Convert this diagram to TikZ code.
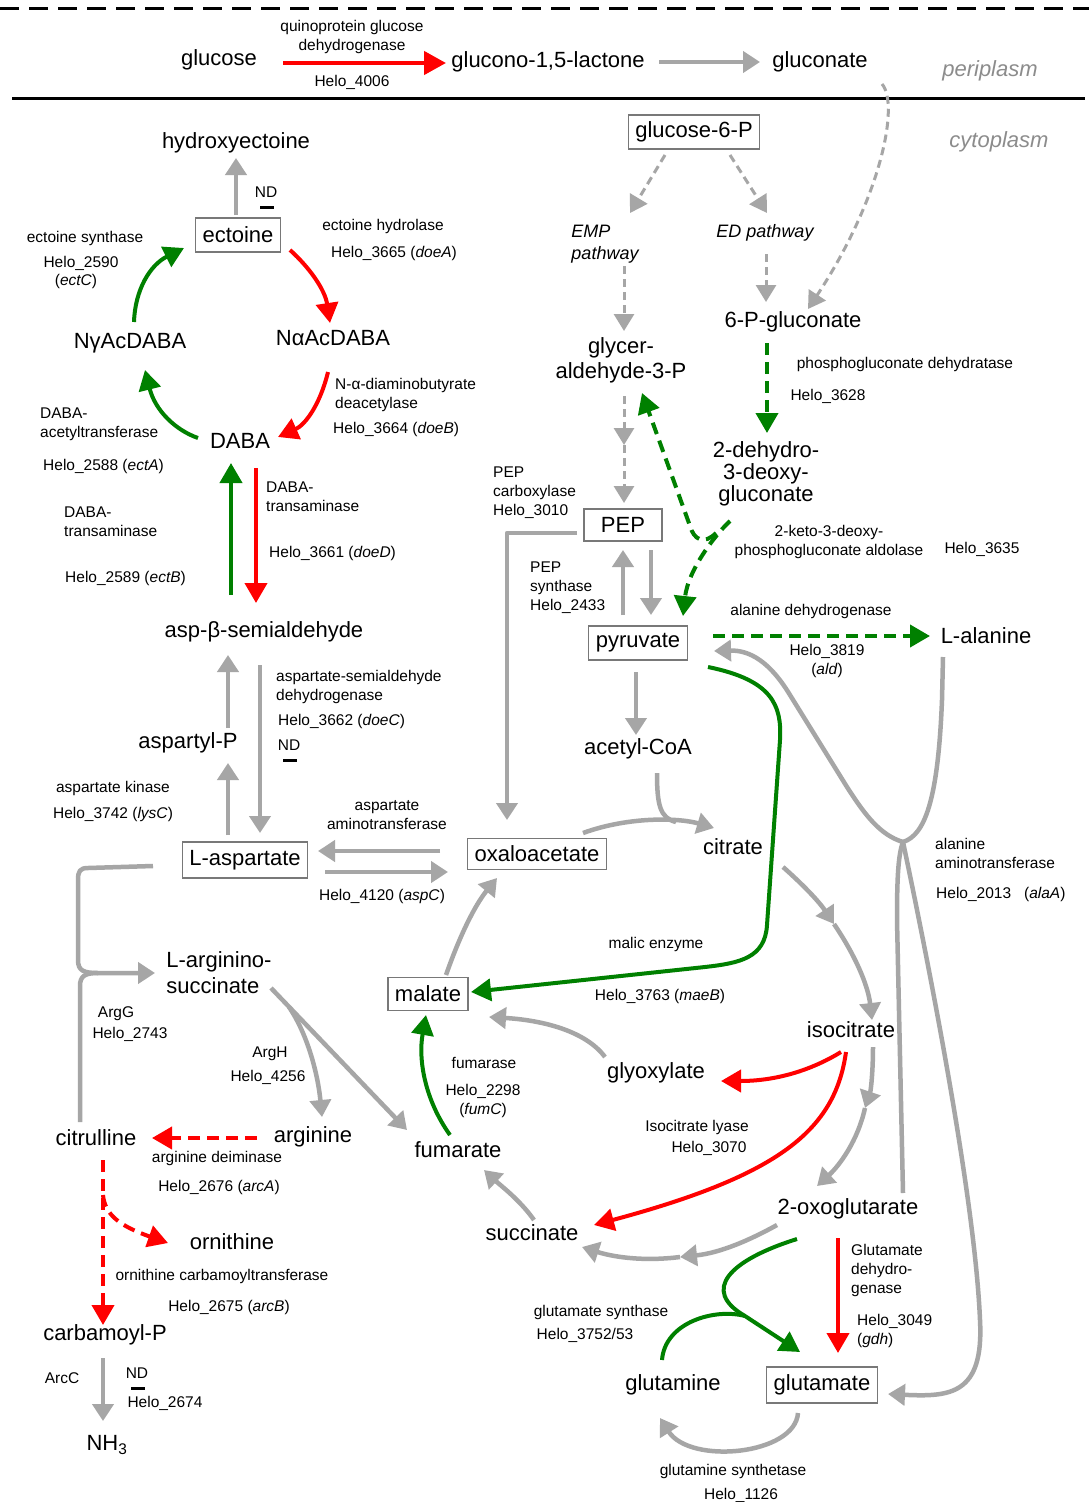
\documentclass[tikz,border=0pt]{standalone}
\usepackage{fontspec}
\setmainfont{Liberation Sans}
\usetikzlibrary{arrows.meta,calc}
\definecolor{ag}{RGB}{166,166,166}
\definecolor{ar}{RGB}{255,0,0}
\definecolor{agr}{RGB}{0,128,0}
\definecolor{bx}{RGB}{120,120,120}
\definecolor{lg}{RGB}{140,140,140}
\begin{document}
\begin{tikzpicture}[x=1pt,y=-1pt,
 big/.style={font=\fontsize{22}{25}\selectfont, inner sep=0pt},
 sm/.style={font=\fontsize{15.5}{19}\selectfont, inner sep=0pt},
 it/.style={font=\fontsize{18}{22}\selectfont\itshape, inner sep=0pt},
 side/.style={font=\fontsize{22}{25}\selectfont\itshape, text=lg, inner sep=0pt},
 boxed/.style={big, draw=bx, line width=1.2pt, inner xsep=7pt, minimum height=34pt},
 gl/.style={draw=ag, line width=4.5pt, line join=round},
 ga/.style={gl, -{Triangle[length=17pt,width=21pt]}},
 gad/.style={draw=ag, line width=3pt, dash pattern=on 8pt off 5pt, -{Triangle[length=17pt,width=20pt]}},
 ra/.style={draw=ar, line width=4pt, -{Triangle[length=20pt,width=22pt]}},
 rad/.style={ra, dash pattern=on 12pt off 7pt},
 gr/.style={draw=agr, line width=4pt, line join=round, -{Triangle[length=20pt,width=22pt]}},
 grd/.style={gr, dash pattern=on 12pt off 7pt},
 ndbar/.style={line width=3pt, draw=black}
]
\fill[white] (0,0) rectangle (1089,1502);
\useasboundingbox (0,0) rectangle (1089,1502);

% membranes
\draw[line width=3pt, dash pattern=on 19pt off 10pt] (0,8) -- (1089,8);
\draw[line width=3pt] (12,98) -- (1085,98);

% ---------- nodes ----------
\node[big] (glucose) at (219,60) {glucose};
\node[big] (glucono) at (548,62) {glucono-1,5-lactone};
\node[big] (gluconate) at (820,62) {gluconate};
\node[side] (peri) at (990,71) {periplasm};
\node[side] (cyto) at (999,142) {cytoplasm};
\node[sm, align=center] (qgdh) at (352,37) {quinoprotein glucose\\dehydrogenase};
\node[sm] (h4006) at (352,82) {Helo\_4006};

\node[boxed] (g6p) at (694,132) {glucose-6-P};
\node[it, align=left] (emp) at (605,244) {EMP\\pathway};
\node[it] (ed) at (765,233) {ED pathway};
\node[big] (pg6) at (793,322) {6-P-gluconate};
\node[big, align=center, font=\fontsize{22}{25}\selectfont] (gap) at (621,360) {glycer-\\aldehyde-3-P};
\node[big, align=center, font=\fontsize{22}{22}\selectfont] (kdpg) at (766,474) {2-dehydro-\\3-deoxy-\\gluconate};
\node[boxed, minimum width=78pt, minimum height=32pt] (PEP) at (623,525) {PEP};
\node[boxed] (pyr) at (638,643) {pyruvate};
\node[big] (ala) at (986,636) {L-alanine};
\node[big] (acoa) at (638,749) {acetyl-CoA};
\node[big] (cit) at (733,847) {citrate};
\node[boxed, minimum height=31pt] (oaa) at (537,854) {oxaloacetate};
\node[boxed, minimum height=36pt] (asp) at (245,860) {L-aspartate};
\node[big] (isocit) at (851,1030) {isocitrate};
\node[big] (glyox) at (656,1073) {glyoxylate};
\node[boxed, minimum height=33pt] (mal) at (428,994) {malate};
\node[big] (fum) at (458,1150) {fumarate};
\node[big] (succ) at (532,1233) {succinate};
\node[big] (oxo) at (848,1209) {2-oxoglutarate};
\node[big] (gln) at (673,1385) {glutamine};
\node[boxed, minimum height=36pt] (glu) at (822,1385) {glutamate};

\node[big] (hect) at (236,143) {hydroxyectoine};
\node[boxed] (ect) at (238,235) {ectoine};
\node[big] (naa) at (333,338) {NαAcDABA};
\node[big] (nga) at (130,343) {NγAcDABA};
\node[big] (daba) at (240,441) {DABA};
\node[big] (asa) at (264,632) {asp-β-semialdehyde};
\node[big] (aspp) at (188,743) {aspartyl-P};
\node[big, align=left, font=\fontsize{22}{26}\selectfont] (args) at (219,973) {L-arginino-\\succinate};
\node[big] (arg) at (313,1137) {arginine};
\node[big] (citr) at (96,1138) {citrulline};
\node[big] (orn) at (232,1242) {ornithine};
\node[big] (carb) at (105,1335) {carbamoyl-P};
\node[big] (nh3) at (107,1445) {NH\textsubscript{3}};

% ---------- small labels ----------
\node[sm] (lnd1) at (266,192) {ND};
\draw[ndbar] (260,207) -- (274,207);
\node[sm] (les) at (85,238) {ectoine synthase};
\node[sm] (l2590) at (81,263) {Helo\_2590};
\node[sm] (lectc) at (76,281) {(\textit{ectC})};
\node[sm] (leh) at (383,226) {ectoine hydrolase};
\node[sm] (l3665) at (394,253) {Helo\_3665 (\textit{doeA})};
\node[sm, align=left, anchor=west] (ldeac) at (335,394.5) {N-α-diaminobutyrate\\deacetylase};
\node[sm, anchor=west] (l3664) at (333,429) {Helo\_3664 (\textit{doeB})};
\node[sm, align=left, anchor=west] (lacet) at (40,424.5) {DABA-\\acetyltransferase};
\node[sm, anchor=west] (l2588) at (43,466) {Helo\_2588 (\textit{ectA})};
\node[sm, align=left, anchor=west] (ltr1) at (266,496.5) {DABA-\\transaminase};
\node[sm, anchor=west] (l3661) at (269,553) {Helo\_3661 (\textit{doeD})};
\node[sm, align=left, anchor=west] (ltr2) at (64,522) {DABA-\\transaminase};
\node[sm, anchor=west] (l2589) at (65,578) {Helo\_2589 (\textit{ectB})};
\node[sm, align=left, anchor=west] (lasd) at (276,686.5) {aspartate-semialdehyde\\dehydrogenase};
\node[sm, anchor=west] (l3662) at (278,721) {Helo\_3662 (\textit{doeC})};
\node[sm] (lnd2) at (289,745) {ND};
\draw[ndbar] (283,760) -- (297,760);
\node[sm] (lak) at (113,788) {aspartate kinase};
\node[sm] (l3742) at (113,814) {Helo\_3742 (\textit{lysC})};
\node[sm, align=center] (lat) at (387,815.5) {aspartate\\aminotransferase};
\node[sm] (l4120) at (382,896) {Helo\_4120 (\textit{aspC})};
\node[sm] (largg) at (116,1014) {ArgG};
\node[sm] (l2743) at (130,1034) {Helo\_2743};
\node[sm] (largh) at (270,1054) {ArgH};
\node[sm] (l4256) at (268,1077) {Helo\_4256};
\node[sm] (lad) at (217,1158) {arginine deiminase};
\node[sm] (l2676) at (219,1187) {Helo\_2676 (\textit{arcA})};
\node[sm] (loct) at (222,1276) {ornithine carbamoyltransferase};
\node[sm] (l2675) at (229,1307) {Helo\_2675 (\textit{arcB})};
\node[sm] (larcc) at (62,1378) {ArcC};
\node[sm] (lnd3) at (137,1373) {ND};
\draw[ndbar] (131,1388) -- (145,1388);
\node[sm] (l2674) at (165,1403) {Helo\_2674};

\node[sm, align=left, anchor=west] (lpepc) at (493,492.5) {PEP\\carboxylase\\Helo\_3010};
\node[sm, align=left, anchor=west] (lpeps) at (530,588) {PEP\\synthase\\Helo\_2433};
\node[sm] (lpgd) at (905,364) {phosphogluconate dehydratase};
\node[sm] (l3628) at (828,396) {Helo\_3628};
\node[sm, align=center] (lkdpga) at (829,541.5) {2-keto-3-deoxy-\\phosphogluconate aldolase};
\node[sm] (l3635) at (982,549) {Helo\_3635};
\node[sm] (lald) at (811,611) {alanine dehydrogenase};
\node[sm, align=center] (l3819) at (827,660.5) {Helo\_3819\\(\textit{ald})};
\node[sm, align=left, anchor=west] (laat) at (935,853.5) {alanine\\aminotransferase};
\node[sm, anchor=west] (l2013) at (936,894) {Helo\_2013\ \ \ (\textit{alaA})};
\node[sm] (lme) at (656,944) {malic enzyme};
\node[sm] (l3763) at (660,996) {Helo\_3763 (\textit{maeB})};
\node[sm] (lfum) at (484,1063) {fumarase};
\node[sm, align=center] (l2298) at (483,1100.5) {Helo\_2298\\(\textit{fumC})};
\node[sm] (lil) at (697,1127) {Isocitrate lyase};
\node[sm] (l3070) at (709,1148) {Helo\_3070};
\node[sm, align=left, anchor=west] (lgdh) at (851,1270) {Glutamate\\dehydro-\\genase};
\node[sm, align=left, anchor=west] (l3049) at (857,1330.5) {Helo\_3049\\(\textit{gdh})};
\node[sm] (lgs) at (601,1312) {glutamate synthase};
\node[sm] (l3752) at (585,1335) {Helo\_3752/53};
\node[sm] (lgns) at (733,1471) {glutamine synthetase};
\node[sm] (l1126) at (741,1495) {Helo\_1126};

% ---------- connectors: top ----------
\draw[ra, line width=4.5pt, -{Triangle[length=22pt,width=23pt]}] ($(glucose)+(64,3)$) -- ($(glucono)+(-102,1)$);
\draw[ga] ($(glucono)+(111,0)$) -- ($(gluconate)+(-60,0)$);
\draw[gad] ($(gluconate)+(62,22)$) .. controls (900,105) and (880,200) .. ($(pg6)+(15,-13)$);

% glycolysis / ED
\draw[gad] ($(g6p)+(-29,23)$) -- ($(emp)+(25,-31)$);
\draw[gad] ($(g6p)+(36,23)$) -- ($(ed)+(2,-20)$);
\draw[gad] ($(emp)+(19,22)$) -- ($(gap)+(3,-29)$);
\draw[gad] ($(ed)+(1,21)$) -- ($(pg6)+(-27,-20)$);
\coordinate (gp1) at (624,445);
\draw[gad] ($(gap)+(3,36)$) -- (gp1);
\draw[gad] (gp1) -- ($(PEP)+(1,-22)$);
\draw[grd] ($(pg6)+(-26,21)$) -- ($(kdpg)+(1,-41)$);
\coordinate (J) at (716,533);
\draw[grd] ($(kdpg)+(-36,47)$) .. controls (715,535) and (688,570) .. ($(pyr)+(45,-27)$);
\draw[grd] (J) .. controls (704,545) and (694,540) .. (690,526) -- ($(gap)+(21,33)$);

% PEP / pyruvate
\draw[ga] ($(PEP)+(-46,8)$) -| ($(oaa)+(-30,-34)$);
\draw[ga] ($(pyr)+(-15,-28)$) -- ($(PEP)+(0,25)$);
\draw[ga] ($(PEP)+(28,25)$) -- ($(pyr)+(13,-28)$);
\draw[grd] ($(pyr)+(75,-7)$) -- ($(ala)+(-56,0)$);
\draw[ga] ($(pyr)+(-2,29)$) -- ($(acoa)+(-2,-14)$);
\draw[ga] ($(oaa)+(46,-21)$) .. controls (630,816) and (680,818) .. ($(cit)+(-19,-19)$);
\draw[gl] ($(acoa)+(19,24)$) .. controls (657,805) and (660,818) .. (676,822);

% malic enzyme
\draw[gr] ($(pyr)+(70,24)$) .. controls (772,680) and (782,705) .. (780,740) -- (767,925) .. controls (765,958) and (740,963) .. (705,967) -- ($(mal)+(43,-2)$);

% alanine aminotransferase
\coordinate (K) at (903,842);
\draw[ga] (K) .. controls (880,835) and (865,815) .. (847,787) -- (790,695) .. controls (770,662) and (750,650) .. ($(pyr)+(76,8)$);
\draw[gl] ($(ala)+(-43,21)$) -- (942,700) .. controls (938,800) and (925,835) .. (K);
\draw[gl] (K) .. controls (898,855) and (897,880) .. (897,920) -- ($(oxo)+(55,-16)$);
\draw[ga] (K) .. controls (930,970) and (975,1200) .. (980,1320) .. controls (984,1395) and (950,1397) .. ($(glu)+(66,9)$);

% TCA
\draw[ga] ($(oaa)+(-97,-3)$) -- ($(asp)+(73,-9)$);
\draw[ga] ($(asp)+(80,12)$) -- ($(oaa)+(-89,18)$);
\coordinate (ci1) at (834,924);
\draw[ga] ($(cit)+(50,20)$) .. controls (800,882) and (818,900) .. (ci1);
\draw[ga] (ci1) .. controls (855,955) and (868,985) .. ($(isocit)+(21,-10)$);
\coordinate (io1) at (865,1108);
\draw[ga] ($(isocit)+(22,17)$) .. controls (873,1070) and (871,1090) .. (io1);
\draw[ga] (io1) .. controls (858,1140) and (840,1165) .. ($(oxo)+(-31,-23)$);
\coordinate (os1) at (680,1257);
\draw[ga] ($(oxo)+(-71,16)$) .. controls (750,1240) and (720,1253) .. (os1);
\draw[ga] (os1) .. controls (640,1262) and (610,1256) .. ($(succ)+(50,14)$);
\draw[ga] ($(succ)+(2,-13)$) .. controls (520,1200) and (500,1185) .. ($(fum)+(26,20)$);
\draw[gr] ($(fum)+(-8,-15)$) .. controls (425,1100) and (418,1060) .. ($(mal)+(-2,21)$);
\draw[ga] ($(mal)+(18,-19)$) .. controls (460,935) and (475,905) .. ($(oaa)+(-40,24)$);
\draw[ga] ($(glyox)+(-51,-16)$) .. controls (585,1030) and (540,1020) .. ($(mal)+(61,23)$);
\draw[ra] ($(isocit)+(-10,22)$) .. controls (815,1068) and (780,1081) .. ($(glyox)+(65,8)$);
\draw[ra] ($(isocit)+(-5,22)$) .. controls (835,1130) and (780,1175) .. ($(succ)+(62,-8)$);

% glutamate
\draw[ra] ($(oxo)+(-10,29)$) -- ($(glu)+(16,-32)$);
\coordinate (M) at (745,1316);
\draw[gr] ($(oxo)+(-51,30)$) .. controls (730,1260) and (700,1290) .. (M) -- ($(glu)+(-22,-33)$);
\draw[gr, -] ($(gln)+(-11,-25)$) .. controls (665,1322) and (715,1308) .. (M);
\draw[ga] ($(glu)+(-24,28)$) .. controls (795,1455) and (690,1465) .. ($(gln)+(-13,33)$);

% ---------- left side ----------
\draw[ga] ($(ect)+(-2,-20)$) -- ($(hect)+(0,15)$);
\draw[ra] ($(ect)+(52,15)$) .. controls (310,268) and (325,290) .. ($(naa)+(-3,-15)$);
\draw[gr] ($(nga)+(4,-21)$) .. controls (135,290) and (150,265) .. ($(ect)+(-54,13)$);
\draw[ra] ($(naa)+(-5,34)$) .. controls (320,405) and (305,425) .. ($(daba)+(38,-4)$);
\draw[gr] ($(daba)+(-42,-3)$) .. controls (175,430) and (155,410) .. ($(nga)+(15,27)$);
\draw[gr] ($(asa)+(-33,-37)$) -- ($(daba)+(-9,22)$);
\draw[ra] ($(daba)+(16,27)$) -- ($(asa)+(-8,-29)$);
\draw[ga] ($(aspp)+(40,-15)$) -- ($(asa)+(-36,23)$);
\draw[ga] ($(asa)+(-4,33)$) -- ($(asp)+(15,-27)$);
\draw[ga] ($(asp)+(-17,-25)$) -- ($(aspp)+(40,20)$);
\draw[ga] ($(asp)+(-92,6)$) -- (88,868) .. controls (80,868) and (78,871) .. (78,880) -- (78,960) .. controls (78,971) and (84,973) .. (98,973) -- ($(args)+(-64,0)$);
\draw[gl] ($(citr)+(-16,-16)$) -- (80,986) .. controls (80,976) and (85,973) .. (98,973);
\coordinate (B) at (289,1007);
\draw[ga] ($(args)+(52,15)$) -- ($(fum)+(-51,-20)$);
\draw[ga] (B) .. controls (308,1035) and (318,1075) .. ($(arg)+(9,-20)$);
\draw[rad] ($(arg)+(-56,1)$) -- ($(citr)+(56,0)$);
\draw[rad] ($(citr)+(7,22)$) -- ($(carb)+(-2,-10)$);
\draw[rad] (103,1195) .. controls (105,1215) and (120,1226) .. ($(orn)+(-64,1)$);
\draw[ga] ($(carb)+(-2,23)$) -- ($(nh3)+(-4,-24)$);
\end{tikzpicture}
\end{document}
